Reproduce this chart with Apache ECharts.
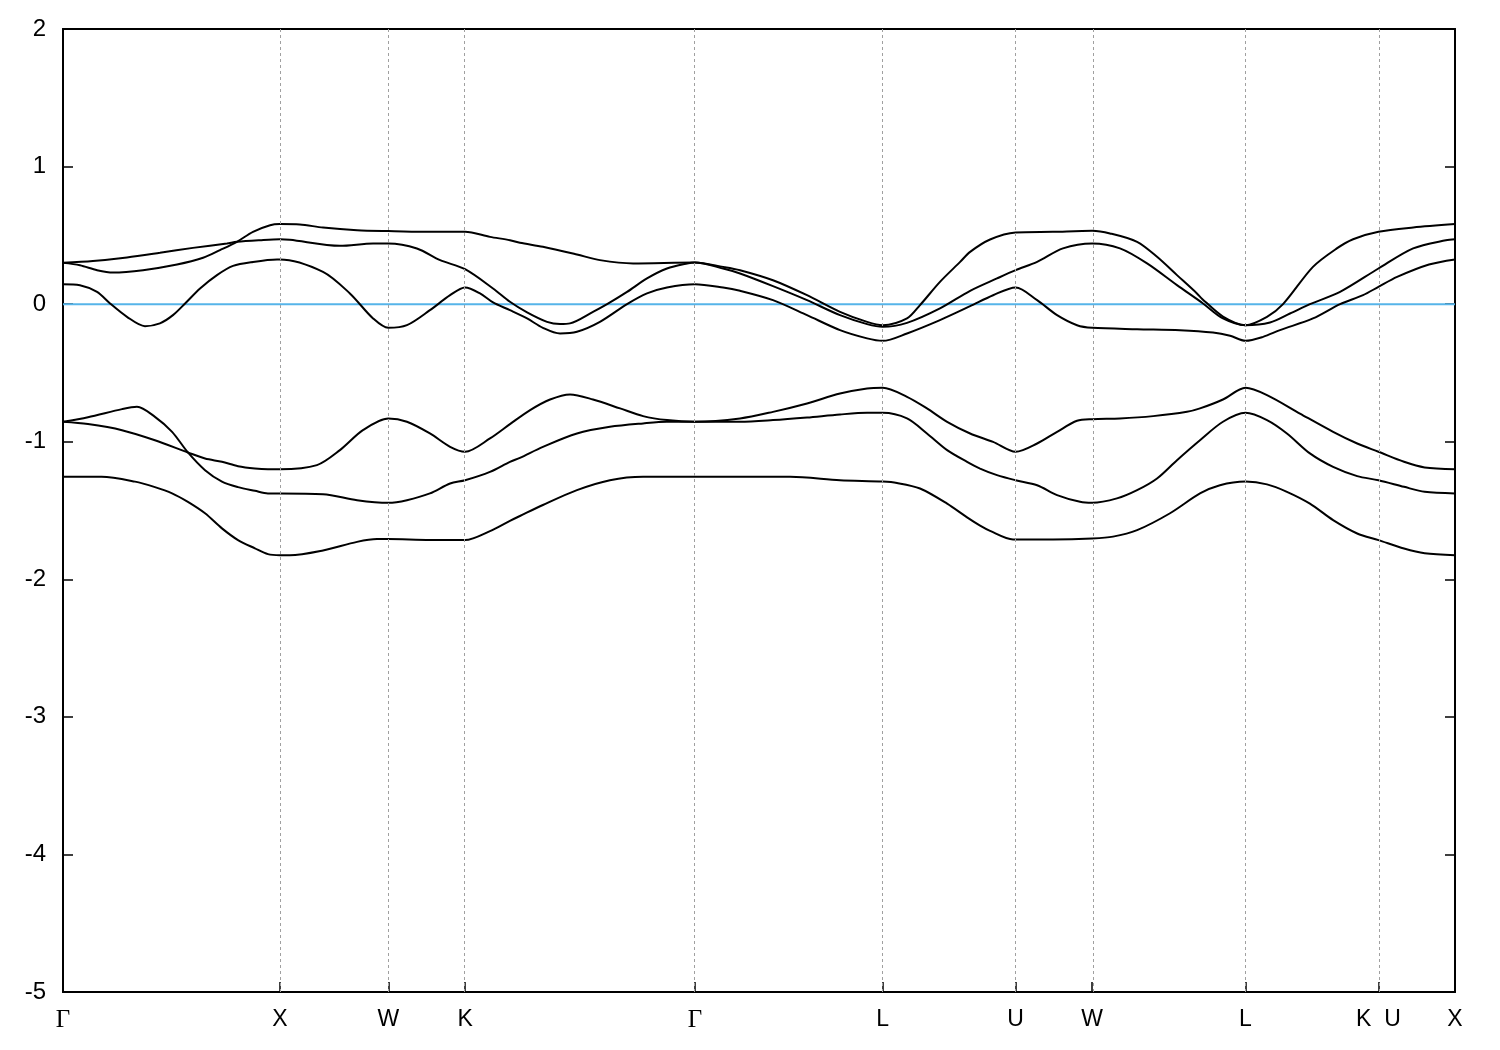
<!DOCTYPE html>
<html>
<head>
<meta charset="utf-8">
<script src="https://cdn.jsdelivr.net/npm/echarts@6/dist/echarts.min.js"></script>
<style>
html,body{margin:0;padding:0;background:#fff;}
#chart{width:1500px;height:1050px;}
</style>
</head>
<body>
<div id="chart"></div>
<script>
// High-symmetry points along the k-path (path distance)
const kTicks = [0, 1, 1.5, 1.854, 2.914, 3.780, 4.393, 4.746, 5.453, 6.066, 6.419];
const kLabels = ['Γ', 'X', 'W', 'K', 'Γ', 'L', 'U', 'W', 'L', 'K  U', 'X'];
const yTicks = [-5, -4, -3, -2, -1, 0, 1, 2];

// Band lines: [k, energy]
const band1 = [[0,-1.255],[0.178,-1.255],[0.332,-1.29],[0.424,-1.33],[0.503,-1.375],[0.576,-1.437],[0.655,-1.52],[0.733,-1.63],[0.807,-1.715],[0.885,-1.775],[0.945,-1.817],[1.0,-1.825],
  [1.046,-1.825],[1.199,-1.79],[1.356,-1.728],[1.448,-1.708],[1.5,-1.708],[1.692,-1.715],[1.854,-1.715],[1.969,-1.65],[2.061,-1.575],[2.107,-1.54],[2.213,-1.46],[2.370,-1.352],[2.522,-1.28],[2.675,-1.255],[2.914,-1.255],
  [3.168,-1.255],[3.353,-1.255],[3.583,-1.28],[3.780,-1.29],[3.846,-1.30],[3.952,-1.34],[4.077,-1.45],[4.169,-1.55],[4.229,-1.61],[4.275,-1.648],[4.381,-1.71],[4.393,-1.71],[4.565,-1.71],[4.746,-1.703],[4.842,-1.69],[4.953,-1.643],[5.105,-1.52],[5.243,-1.376],[5.335,-1.316],[5.453,-1.29],[5.552,-1.31],[5.644,-1.364],[5.750,-1.45],[5.857,-1.57],[5.968,-1.667],[6.066,-1.715],[6.184,-1.776],[6.279,-1.81],[6.419,-1.825]];

const bandP = [[0,-0.855],[0.115,-0.822],[0.272,-0.763],[0.341,-0.746],[0.424,-0.819],[0.503,-0.928],[0.576,-1.078],[0.655,-1.207],[0.733,-1.29],[0.807,-1.33],[0.885,-1.357],[0.945,-1.376],[1.0,-1.376],
  [1.199,-1.381],[1.356,-1.425],[1.5,-1.444],[1.586,-1.425],[1.692,-1.376],[1.785,-1.304],[1.854,-1.28],[1.969,-1.219],[2.061,-1.146],[2.107,-1.117],[2.213,-1.037],[2.370,-0.94],[2.522,-0.892],[2.675,-0.867],[2.785,-0.855],[2.914,-0.855],
  [3.122,-0.855],[3.274,-0.843],[3.431,-0.824],[3.583,-0.802],[3.708,-0.79],[3.780,-0.79],[3.892,-0.831],[3.984,-0.94],[4.077,-1.061],[4.169,-1.146],[4.229,-1.195],[4.307,-1.243],[4.393,-1.28],[4.492,-1.316],[4.584,-1.388],[4.690,-1.437],[4.746,-1.444],[4.860,-1.412],[4.953,-1.352],[5.045,-1.267],[5.137,-1.134],[5.243,-0.989],[5.349,-0.855],[5.453,-0.79],[5.552,-0.843],[5.644,-0.94],[5.750,-1.085],[5.857,-1.183],[5.968,-1.25],[6.066,-1.28],[6.184,-1.328],[6.279,-1.364],[6.419,-1.376]];

const bandQ = [[0,-0.855],[0.115,-0.872],[0.272,-0.916],[0.424,-0.989],[0.576,-1.078],[0.655,-1.122],[0.733,-1.146],[0.807,-1.178],[0.885,-1.195],[0.945,-1.2],[1.0,-1.2],
  [1.171,-1.17],[1.277,-1.061],[1.383,-0.916],[1.5,-0.831],[1.586,-0.855],[1.692,-0.94],[1.785,-1.037],[1.854,-1.073],[1.969,-0.976],[2.061,-0.872],[2.154,-0.77],[2.246,-0.693],[2.338,-0.656],[2.444,-0.693],[2.569,-0.758],[2.675,-0.814],[2.785,-0.843],[2.914,-0.855],
  [3.122,-0.831],[3.274,-0.783],[3.431,-0.722],[3.583,-0.65],[3.708,-0.613],[3.780,-0.608],[3.892,-0.674],[3.984,-0.758],[4.077,-0.855],[4.183,-0.94],[4.289,-1.001],[4.393,-1.073],[4.492,-1.013],[4.584,-0.928],[4.676,-0.848],[4.746,-0.836],[4.874,-0.831],[5.027,-0.814],[5.183,-0.783],[5.243,-0.758],[5.349,-0.693],[5.453,-0.608],[5.552,-0.661],[5.704,-0.795],[5.857,-0.928],[5.968,-1.013],[6.066,-1.073],[6.184,-1.146],[6.279,-1.187],[6.419,-1.2]];

const band4 = [[0,0.145],[0.078,0.138],[0.157,0.089],[0.217,0.005],[0.295,-0.092],[0.378,-0.16],[0.447,-0.14],[0.507,-0.08],[0.563,0.005],[0.632,0.114],[0.710,0.211],[0.784,0.278],[0.876,0.307],[0.987,0.325],[1.0,0.325],
  [1.199,0.235],[1.323,0.078],[1.430,-0.104],[1.5,-0.172],[1.586,-0.153],[1.692,-0.044],[1.785,0.065],[1.854,0.121],
  [1.923,0.078],[1.983,0.012],[2.061,-0.044],[2.140,-0.104],[2.213,-0.172],[2.292,-0.213],[2.370,-0.201],[2.476,-0.129],[2.601,0],[2.693,0.078],[2.785,0.121],[2.914,0.145],
  [3.044,0.121],[3.122,0.097],[3.274,0.029],[3.431,-0.08],[3.583,-0.189],[3.708,-0.249],[3.780,-0.267],[3.892,-0.213],[4.044,-0.116],[4.183,-0.015],[4.289,0.065],[4.393,0.121],[4.492,0.029],[4.584,-0.08],[4.676,-0.153],[4.746,-0.172],[4.953,-0.182],[5.151,-0.189],[5.303,-0.206],[5.382,-0.23],[5.453,-0.267],[5.534,-0.238],[5.612,-0.189],[5.764,-0.104],[5.889,0],[5.995,0.065],[6.066,0.126],[6.152,0.198],[6.299,0.288],[6.419,0.325]];

const bandA = [[0,0.30],[0.138,0.313],[0.295,0.339],[0.447,0.373],[0.599,0.409],[0.756,0.441],[0.802,0.453],[0.908,0.465],[1.0,0.472],
  [1.046,0.468],[1.277,0.424],[1.430,0.441],[1.5,0.441],[1.632,0.405],[1.739,0.32],[1.854,0.254],
  [1.983,0.114],[2.061,0.017],[2.140,-0.06],[2.232,-0.129],[2.292,-0.145],[2.338,-0.14],[2.444,-0.056],[2.509,0],[2.601,0.089],[2.693,0.187],[2.785,0.259],[2.878,0.296],[2.914,0.303],
  [3.044,0.259],[3.122,0.223],[3.274,0.131],[3.431,0.029],[3.583,-0.08],[3.708,-0.145],[3.780,-0.165],[3.892,-0.136],[4.044,-0.031],[4.183,0.097],[4.307,0.187],[4.393,0.247],[4.492,0.307],[4.611,0.405],[4.746,0.441],[4.874,0.405],[4.999,0.296],[5.137,0.138],[5.257,0.005],[5.349,-0.104],[5.453,-0.153],[5.566,-0.133],[5.658,-0.068],[5.750,0],[5.889,0.089],[6.066,0.259],[6.226,0.405],[6.377,0.465],[6.419,0.472]];

const bandB = [[0,0.30],[0.078,0.283],[0.157,0.247],[0.231,0.23],[0.369,0.247],[0.526,0.288],[0.646,0.337],[0.724,0.393],[0.802,0.453],[0.876,0.526],[0.955,0.574],[1.0,0.582],
  [1.092,0.579],[1.199,0.557],[1.356,0.538],[1.5,0.531],[1.660,0.526],[1.854,0.526],
  [1.969,0.489],[2.061,0.465],[2.107,0.446],[2.213,0.417],[2.370,0.361],[2.476,0.32],[2.629,0.296],[2.914,0.303],
  [3.044,0.271],[3.122,0.247],[3.274,0.174],[3.431,0.065],[3.583,-0.056],[3.708,-0.129],[3.780,-0.153],[3.892,-0.104],[3.952,-0.007],[4.044,0.162],[4.137,0.307],[4.183,0.38],[4.275,0.47],[4.393,0.521],[4.565,0.526],[4.746,0.533],[4.828,0.514],[4.953,0.453],[5.045,0.344],[5.137,0.211],[5.229,0.078],[5.252,0.04],[5.349,-0.09],[5.453,-0.153],[5.552,-0.092],[5.626,0],[5.764,0.271],[5.874,0.405],[5.949,0.472],[6.066,0.526],[6.226,0.557],[6.419,0.582]];

const bands = [band1, bandP, bandQ, band4, bandA, bandB];
const fermi = [[0, 0], [6.419, 0]];

const chart = echarts.init(document.getElementById('chart'), null, {renderer: 'canvas'});
const kMin = kTicks[0], kMax = kTicks[kTicks.length - 1];

function labelFor(v) {
  for (let i = 0; i < kTicks.length; i++) {
    if (Math.abs(kTicks[i] - v) < 1e-6) {
      const s = kLabels[i];
      return s === 'Γ' ? '{g|Γ}' : s;
    }
  }
  return '';
}

const series = bands.map((b, i) => ({
  name: 'band' + (i + 1),
  type: 'line',
  data: b,
  showSymbol: false,
  smooth: 0.3,
  lineStyle: {color: '#000', width: 2},
  z: 3,
  silent: true
}));

series.unshift({
  name: 'EF',
  type: 'line',
  data: fermi,
  showSymbol: false,
  lineStyle: {color: '#56b4e9', width: 2},
  z: 2,
  silent: true,
  markLine: {
    silent: true,
    symbol: 'none',
    label: {show: false},
    lineStyle: {color: '#a0a0a0', type: [3, 3], width: 1},
    data: kTicks.slice(1, -1).map(k => ({xAxis: k}))
  }
});

const option = {
  animation: false,
  backgroundColor: '#fff',
  grid: {left: 63, right: 45, top: 29, bottom: 58, show: true, borderColor: '#000', borderWidth: 1.5, backgroundColor: 'transparent'},
  xAxis: [{
    type: 'value', min: kMin, max: kMax, position: 'bottom',
    axisLine: {show: true, onZero: false, lineStyle: {color: '#000', width: 2}},
    axisTick: {show: true, inside: true, length: 10, customValues: kTicks, lineStyle: {color: '#000', width: 1.5}},
    axisLabel: {
      show: true, customValues: kTicks, showMinLabel: true, showMaxLabel: true,
      formatter: labelFor, color: '#000', fontSize: 23, fontFamily: 'Liberation Sans', margin: 16,
      rich: {g: {fontFamily: 'Liberation Serif', fontSize: 25, color: '#000'}}
    },
    splitLine: {show: false}
  }, {
    type: 'value', min: kMin, max: kMax, position: 'top',
    axisLine: {show: true, onZero: false, lineStyle: {color: '#000', width: 2}},
    axisTick: {show: false}, axisLabel: {show: false}, splitLine: {show: false}
  }],
  yAxis: [{
    type: 'value', min: -5, max: 2, interval: 1, position: 'left',
    axisLine: {show: true, onZero: false, lineStyle: {color: '#000', width: 2}},
    axisTick: {show: true, inside: true, length: 10, lineStyle: {color: '#000', width: 1.5}},
    axisLabel: {color: '#000', fontSize: 24, fontFamily: 'Liberation Sans', margin: 17,
      formatter: v => yTicks.indexOf(v) >= 0 ? String(v) : ''},
    splitLine: {show: false}
  }, {
    type: 'value', min: -5, max: 2, interval: 1, position: 'right',
    axisLine: {show: true, onZero: false, lineStyle: {color: '#000', width: 2}},
    axisTick: {show: true, inside: true, length: 10, lineStyle: {color: '#000', width: 1.5}},
    axisLabel: {show: false},
    splitLine: {show: false}
  }],
  series: series
};

chart.setOption(option);
</script>
</body>
</html>
